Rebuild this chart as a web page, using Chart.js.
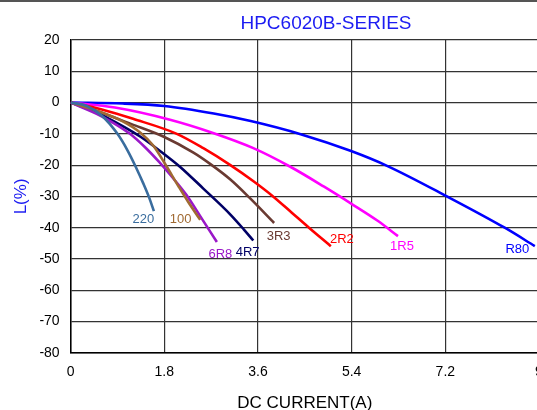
<!DOCTYPE html>
<html>
<head>
<meta charset="utf-8">
<title>HPC6020B-SERIES</title>
<script src="https://cdn.jsdelivr.net/npm/chart.js@4.4.1/dist/chart.umd.min.js"></script>
<style>
	html, body { margin: 0; padding: 0; background: #fff; }
	.chart-wrapper { position: relative; width: 537px; height: 410px; overflow: hidden; border-top: 2px solid #555; box-sizing: border-box; }
	#inductanceChart { display: block; }
</style>
</head>
<body>
<div class="chart-wrapper"><canvas id="inductanceChart" width="652" height="420"></canvas></div>
<script>
	// inductance drop vs DC current, one curve per part value
	var seriesNames = [ "220", "100", "6R8", "4R7", "3R3", "2R2", "1R5", "R80" ];

	var s220 = [ [0,0], [0.3,-1], [0.6,-4.2], [0.9,-10], [1.1,-15.5], [1.25,-20.5], [1.4,-26], [1.5,-30], [1.6,-34.7] ];
	var s100 = [ [0,0], [0.5,-2.6], [1.0,-6], [1.33,-9.5], [1.6,-14], [1.81,-19.5], [2.07,-26.7], [2.26,-31.8], [2.49,-37.5] ];
	var s6R8 = [ [0,0], [0.5,-3.6], [0.8,-6.3], [1.14,-10], [1.43,-14.3], [1.7,-19], [1.97,-24.2], [2.22,-29.4], [2.49,-36.3], [2.81,-44.6] ];
	var s4R7 = [ [0,0], [0.5,-3.2], [1.0,-7.5], [1.35,-11], [1.8,-16.5], [2.1,-20.5], [2.55,-27.5], [3.07,-35.8], [3.33,-40.6], [3.51,-44.1] ];
	var s3R3 = [ [0,0], [0.5,-2.7], [1.17,-6.9], [1.8,-11], [2.36,-16], [2.68,-19.6], [3.07,-24.6], [3.46,-30.8], [3.91,-38.5] ];
	var s2R2 = [ [0,0], [0.6,-2.2], [1.2,-5.2], [2.04,-10], [2.55,-14.6], [3.07,-20], [3.5,-25], [3.89,-30], [4.25,-35.2], [4.58,-40], [5.0,-45.9] ];
	var s1R5 = [ [0,0], [0.85,-1.6], [1.91,-5.5], [2.75,-9.8], [3.5,-14.5], [4.23,-20.6], [4.87,-26.9], [5.39,-32.3], [5.9,-37.8], [6.29,-42.7] ];
	var sR80 = [ [0,0], [1,-0.3], [1.8,-1.1], [2.75,-3.5], [3.46,-5.9], [4.42,-10.1], [5.39,-15.5], [6.09,-20.3], [7.22,-29.9], [8.35,-40.1], [8.92,-45.9] ];

	var seriesData = [ s220, s100, s6R8, s4R7, s3R3, s2R2, s1R5, sR80 ];

	var xTickValues = [ 0, 1.8, 3.6, 5.4, 7.2, 9 ];
	var yTickValues = [ 20, 10, 0, -10, -20, -30, -40, -50, -60, -70, -80 ];

	// styles
	var seriesColors = [ "#3a6d9e", "#a06a32", "#9a18c8", "#000066", "#6a3a32", "#ff0000", "#ff00ff", "#0000ff" ];
	// where the name sits, in px from the last point of the curve
	var labelOffsets = [ [-10.5, 8], [-19.7, 0], [3.5, 12], [-5.7, 12], [4.5, 13], [11, -6.7], [4, 10], [-17.5, 3.3] ];
	var titleBlue = "#1c1cf2";
	var gridColor = "#333";
	var fontFamily = "'Liberation Sans', Arial, sans-serif";

	Chart.defaults.font.family = fontFamily;
	Chart.defaults.color = "#000";

	var datasets = [];
	for ( var i = 0; i < seriesData.length; i++ ) {
		datasets.push( {
			label: seriesNames[i],
			data: seriesData[i].map( function( p ) { return { x: p[0], y: p[1] }; } ),
			borderColor: seriesColors[i],
			backgroundColor: seriesColors[i],
			borderWidth: 2.6,
			pointRadius: 0,
			fill: false,
			cubicInterpolationMode: "monotone"
		} );
	}

	// curve names at the end of each curve
	var curveLabels = {
		id: "curveLabels",
		afterDatasetsDraw: function( chart ) {
			var ctx = chart.ctx;
			var xs = chart.scales.x;
			var ys = chart.scales.y;
			ctx.save();
			ctx.font = "13px " + fontFamily;
			ctx.textAlign = "center";
			ctx.textBaseline = "middle";
			for ( var i = 0; i < seriesData.length; i++ ) {
				var last = seriesData[i][ seriesData[i].length - 1 ];
				ctx.fillStyle = seriesColors[i];
				ctx.fillText( seriesNames[i],
					xs.getPixelForValue( last[0] ) + labelOffsets[i][0],
					ys.getPixelForValue( last[1] ) + labelOffsets[i][1] );
			}
			ctx.restore();
		}
	};

	// title is centred on the whole (uncropped) canvas
	var topTitle = {
		id: "topTitle",
		afterDraw: function( chart ) {
			var ctx = chart.ctx;
			ctx.save();
			ctx.font = "19px " + fontFamily;
			ctx.fillStyle = titleBlue;
			ctx.textAlign = "center";
			ctx.textBaseline = "middle";
			ctx.fillText( "HPC6020B-SERIES", chart.width / 2, 21.5 );
			ctx.restore();
		}
	};

	var chartCtx = document.getElementById( "inductanceChart" ).getContext( "2d" );

	var inductanceChart = new Chart( chartCtx, {
		type: "line",
		data: { datasets: datasets },
		plugins: [ curveLabels, topTitle ],
		options: {
			responsive: false,
			animation: false,
			devicePixelRatio: 1,
			layout: {
				padding: { top: 38, left: 11, right: 113, bottom: 8 }
			},
			plugins: {
				legend: { display: false },
				tooltip: { enabled: false },
				title: { display: false }
			},
			scales: {
				x: {
					type: "linear",
					min: 0,
					max: 9,
					afterBuildTicks: function( scale ) {
						scale.ticks = xTickValues.map( function( v ) { return { value: v }; } );
					},
					ticks: {
						padding: 11,
						maxRotation: 0,
						font: { size: 14 },
						color: "#000"
					},
					grid: {
						color: gridColor,
						lineWidth: 1.2,
						drawTicks: false
					},
					border: { color: "#000", width: 1.5 },
					title: {
						display: true,
						text: "DC CURRENT(A)",
						color: "#000",
						font: { size: 17 },
						padding: { top: 2, bottom: 0 }
					}
				},
				y: {
					type: "linear",
					min: -80,
					max: 20,
					afterBuildTicks: function( scale ) {
						scale.ticks = yTickValues.map( function( v ) { return { value: v }; } );
					},
					ticks: {
						padding: 11,
						font: { size: 14 },
						color: "#000"
					},
					grid: {
						color: gridColor,
						lineWidth: 1.2,
						drawTicks: false
					},
					border: { color: "#000", width: 1.5 },
					title: {
						display: true,
						text: "L(%)",
						color: titleBlue,
						font: { size: 17 },
						padding: { top: 0, bottom: -3 }
					}
				}
			}
		}
	} );
</script>
</body>
</html>
